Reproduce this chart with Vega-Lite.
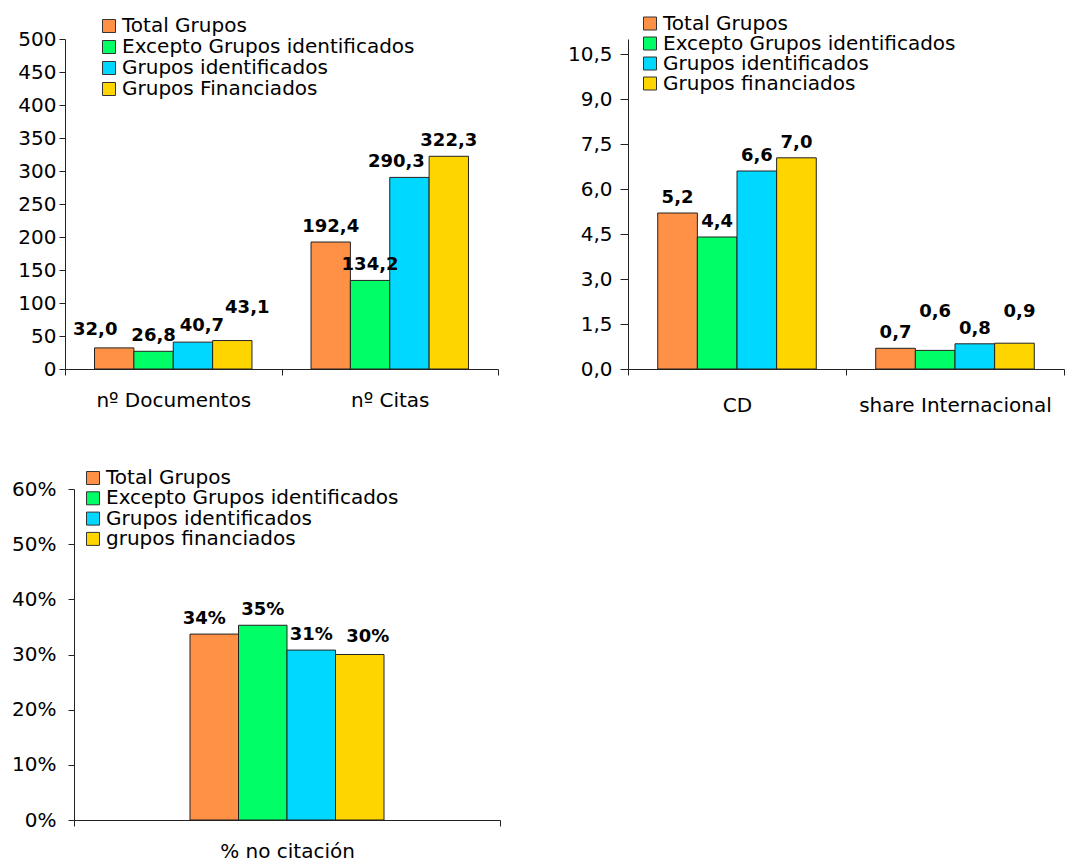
{
  "$schema": "https://vega.github.io/schema/vega-lite/v6.json",
  "padding": {"left": 11, "top": 13, "right": 0, "bottom": 0},
  "background": "#ffffff",
  "bounds": "flush",
  "columns": 2,
  "spacing": {"row": 120, "column": 128},
  "config": {
    "view": {"stroke": null},
    "locale": {"number": {"decimal": ",", "thousands": ".", "grouping": [3], "currency": ["", " €"]}},
    "axis": {"labelFont": "DejaVu Sans", "labelFontSize": 20, "labelColor": "#000000", "labelLimit": 400, "domainColor": "#222222", "tickColor": "#222222", "domainWidth": 1, "tickWidth": 1, "grid": false, "title": null},
    "legend": {"labelFont": "DejaVu Sans", "labelFontSize": 20, "labelColor": "#000000", "symbolType": "square", "symbolSize": 169, "symbolStrokeColor": "#333333", "symbolStrokeWidth": 1, "symbolOpacity": 1, "labelLimit": 600, "title": null, "orient": "none", "padding": 0, "labelOffset": 3, "rowPadding": 0},
    "text": {"font": "DejaVu Sans", "fontSize": 18, "fontWeight": "bold", "color": "#000000", "baseline": "bottom"}
  },
  "datasets": {
    "p1": [
      {"categoria": "nº Documentos", "serie": "Total Grupos", "valor": 32.0},
      {"categoria": "nº Documentos", "serie": "Excepto Grupos identificados", "valor": 26.8},
      {"categoria": "nº Documentos", "serie": "Grupos identificados", "valor": 40.7},
      {"categoria": "nº Documentos", "serie": "Grupos Financiados", "valor": 43.1},
      {"categoria": "nº Citas", "serie": "Total Grupos", "valor": 192.4},
      {"categoria": "nº Citas", "serie": "Excepto Grupos identificados", "valor": 134.2},
      {"categoria": "nº Citas", "serie": "Grupos identificados", "valor": 290.3},
      {"categoria": "nº Citas", "serie": "Grupos Financiados", "valor": 322.3}
    ],
    "p2": [
      {"categoria": "CD", "serie": "Total Grupos", "valor": 5.2},
      {"categoria": "CD", "serie": "Excepto Grupos identificados", "valor": 4.4},
      {"categoria": "CD", "serie": "Grupos identificados", "valor": 6.6},
      {"categoria": "CD", "serie": "Grupos financiados", "valor": 7.04},
      {"categoria": "share Internacional", "serie": "Total Grupos", "valor": 0.69},
      {"categoria": "share Internacional", "serie": "Excepto Grupos identificados", "valor": 0.62},
      {"categoria": "share Internacional", "serie": "Grupos identificados", "valor": 0.84},
      {"categoria": "share Internacional", "serie": "Grupos financiados", "valor": 0.86}
    ],
    "p3": [
      {"categoria": "% no citación", "serie": "Total Grupos", "valor": 0.337},
      {"categoria": "% no citación", "serie": "Excepto Grupos identificados", "valor": 0.353},
      {"categoria": "% no citación", "serie": "Grupos identificados", "valor": 0.308},
      {"categoria": "% no citación", "serie": "grupos financiados", "valor": 0.300}
    ]
  },
  "resolve": {"scale": {"x": "independent", "y": "independent", "xOffset": "independent", "color": "independent"}, "axis": {"x": "independent", "y": "independent"}, "legend": {"color": "independent"}},
  "concat": [
    {
      "width": 433,
      "height": 330,
      "data": {"name": "p1"},
      "encoding": {
        "x": {"field": "categoria", "type": "nominal", "sort": ["nº Documentos", "nº Citas"], "scale": {"paddingInner": 0, "paddingOuter": 0}, "axis": {"labelAngle": 0, "tickBand": "extent", "tickSize": 6, "labelPadding": 15}},
        "xOffset": {"field": "serie", "type": "nominal", "scale": {"domain": ["Total Grupos", "Excepto Grupos identificados", "Grupos identificados", "Grupos Financiados"], "paddingInner": 0, "paddingOuter": 0.75}},
        "y": {"field": "valor", "type": "quantitative", "scale": {"domain": [0, 500], "nice": false}, "axis": {"values": [0, 50, 100, 150, 200, 250, 300, 350, 400, 450, 500], "format": "d", "tickSize": 6, "labelPadding": 3}},
        "text": {"field": "valor", "type": "quantitative", "format": ".1f"}
      },
      "layer": [
        {
          "mark": {"type": "bar", "stroke": "#222222", "strokeWidth": 1},
          "encoding": {
            "text": null,
            "color": {"field": "serie", "type": "nominal", "scale": {"domain": ["Total Grupos", "Excepto Grupos identificados", "Grupos identificados", "Grupos Financiados"], "range": ["#FF9147", "#00FF66", "#00D8FF", "#FFD500"]}, "legend": {"legendX": 34, "legendY": -23, "rowPadding": 1}}
          }
        },
        {
          "transform": [{"filter": "!((datum.categoria == 'nº Documentos' && datum.serie != 'Excepto Grupos identificados') || (datum.categoria == 'nº Citas' && datum.serie == 'Grupos identificados'))"}],
          "mark": {"type": "text", "dy": -6}
        },
        {
          "transform": [{"filter": "datum.categoria == 'nº Documentos' && datum.serie == 'Total Grupos'"}],
          "mark": {"type": "text", "dx": -19, "dy": -9}
        },
        {
          "transform": [{"filter": "datum.categoria == 'nº Documentos' && datum.serie == 'Grupos identificados'"}],
          "mark": {"type": "text", "dx": 9, "dy": -7}
        },
        {
          "transform": [{"filter": "datum.categoria == 'nº Documentos' && datum.serie == 'Grupos Financiados'"}],
          "mark": {"type": "text", "dx": 15, "dy": -24}
        },
        {
          "transform": [{"filter": "datum.categoria == 'nº Citas' && datum.serie == 'Grupos identificados'"}],
          "mark": {"type": "text", "dx": -13, "dy": -6}
        }
      ]
    },
    {
      "width": 436,
      "height": 330,
      "data": {"name": "p2"},
      "encoding": {
        "x": {"field": "categoria", "type": "nominal", "sort": ["CD", "share Internacional"], "scale": {"paddingInner": 0, "paddingOuter": 0}, "axis": {"labelAngle": 0, "tickBand": "extent", "tickSize": 6, "labelPadding": 20}},
        "xOffset": {"field": "serie", "type": "nominal", "scale": {"domain": ["Total Grupos", "Excepto Grupos identificados", "Grupos identificados", "Grupos financiados"], "paddingInner": 0, "paddingOuter": 0.75}},
        "y": {"field": "valor", "type": "quantitative", "scale": {"domain": [0, 11], "nice": false}, "axis": {"values": [0, 1.5, 3, 4.5, 6, 7.5, 9, 10.5], "format": ".1f", "tickSize": 8, "labelPadding": 8}},
        "text": {"field": "valor", "type": "quantitative", "format": ".1f"}
      },
      "layer": [
        {
          "mark": {"type": "bar", "stroke": "#222222", "strokeWidth": 1},
          "encoding": {
            "text": null,
            "color": {"field": "serie", "type": "nominal", "scale": {"domain": ["Total Grupos", "Excepto Grupos identificados", "Grupos identificados", "Grupos financiados"], "range": ["#FF9147", "#00FF66", "#00D8FF", "#FFD500"]}, "legend": {"legendX": 12, "legendY": -25.5, "rowPadding": -1.5}}
          }
        },
        {
          "transform": [{"filter": "!(datum.categoria == 'share Internacional' && (datum.serie == 'Excepto Grupos identificados' || datum.serie == 'Grupos financiados'))"}],
          "mark": {"type": "text", "dy": -6}
        },
        {
          "transform": [{"filter": "datum.categoria == 'share Internacional' && datum.serie == 'Excepto Grupos identificados'"}],
          "mark": {"type": "text", "dy": -29}
        },
        {
          "transform": [{"filter": "datum.categoria == 'share Internacional' && datum.serie == 'Grupos financiados'"}],
          "mark": {"type": "text", "dx": 5, "dy": -22}
        }
      ]
    },
    {
      "width": 435,
      "height": 331,
      "data": {"name": "p3"},
      "encoding": {
        "x": {"field": "categoria", "type": "nominal", "scale": {"paddingInner": 0, "paddingOuter": 0, "range": [9, 435]}, "axis": {"labelAngle": 0, "tickBand": "extent", "tickSize": 6, "labelPadding": 15}},
        "xOffset": {"field": "serie", "type": "nominal", "scale": {"domain": ["Total Grupos", "Excepto Grupos identificados", "Grupos identificados", "grupos financiados"], "paddingInner": 0, "paddingOuter": 0, "range": [116, 310]}},
        "y": {"field": "valor", "type": "quantitative", "scale": {"domain": [0, 0.6], "nice": false}, "axis": {"values": [0, 0.1, 0.2, 0.3, 0.4, 0.5, 0.6], "format": ".0%", "tickSize": 6, "labelPadding": 12, "offset": -9}},
        "text": {"field": "valor", "type": "quantitative", "format": ".0%"}
      },
      "layer": [
        {
          "mark": {"type": "bar", "stroke": "#222222", "strokeWidth": 1},
          "encoding": {
            "text": null,
            "color": {"field": "serie", "type": "nominal", "scale": {"domain": ["Total Grupos", "Excepto Grupos identificados", "Grupos identificados", "grupos financiados"], "range": ["#FF9147", "#00FF66", "#00D8FF", "#FFD500"]}, "legend": {"legendX": 18, "legendY": -21, "rowPadding": 0.3}}
          }
        },
        {
          "transform": [{"filter": "datum.serie == 'Excepto Grupos identificados' || datum.serie == 'Grupos identificados'"}],
          "mark": {"type": "text", "dy": -6}
        },
        {
          "transform": [{"filter": "datum.serie == 'Total Grupos'"}],
          "mark": {"type": "text", "dx": -10, "dy": -6}
        },
        {
          "transform": [{"filter": "datum.serie == 'grupos financiados'"}],
          "mark": {"type": "text", "dx": 8, "dy": -9}
        }
      ]
    }
  ]
}
